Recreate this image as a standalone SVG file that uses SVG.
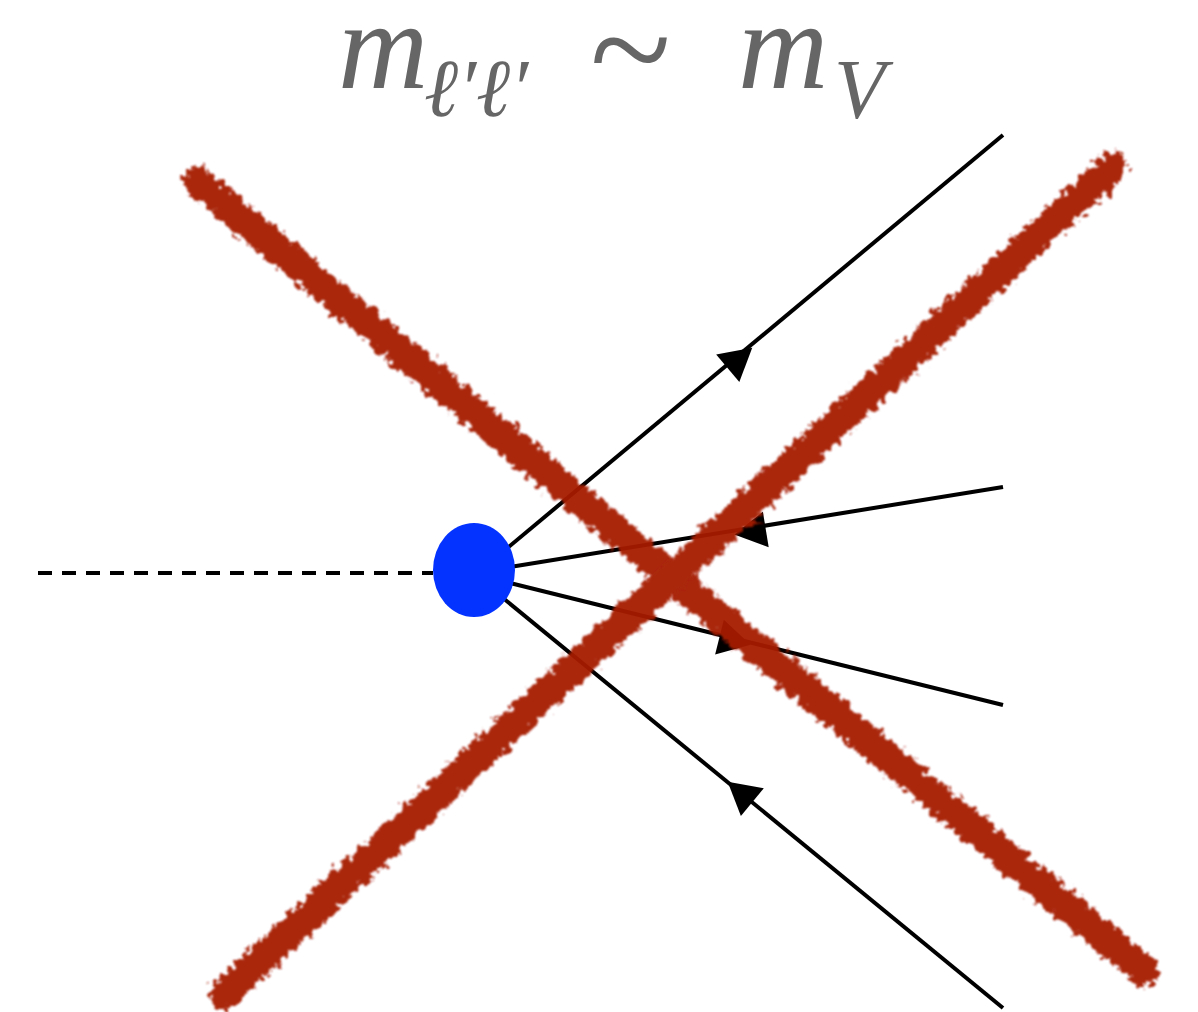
<svg xmlns="http://www.w3.org/2000/svg" width="1198" height="1012" viewBox="0 0 1198 1012">
<style>
.t{font-family:"Liberation Serif","DejaVu Serif",serif;font-style:italic;fill:#666666}
.f{stroke:#000;stroke-width:4;fill:none}
.x{stroke:#a61a02;stroke-width:30;stroke-linecap:round;fill:none;filter:url(#rough)}
</style>
<defs>
<filter id="rough" x="-10%" y="-10%" width="120%" height="120%">
<feTurbulence type="fractalNoise" baseFrequency="0.14" numOctaves="3" seed="5" result="n"/>
<feDisplacementMap in="SourceGraphic" in2="n" scale="18" xChannelSelector="R" yChannelSelector="G" result="d"/>
<feGaussianBlur in="d" stdDeviation="1.3"/>
</filter>
<path id="ah" d="M16 0 L-16 -18 L-16 18 Z" fill="#000"/>
</defs>
<g id="title">
<text class="t" x="338" y="88" font-size="125">m</text>
<text class="t" x="424" y="116" font-size="82">ℓ′ℓ′</text>
<text class="t" x="588" y="100" font-size="150" font-style="normal">~</text>
<text class="t" x="738" y="88" font-size="125">m</text>
<text class="t" x="834" y="118" font-size="84" font-style="normal">V</text>
</g>
<g id="connectors">
<line x1="38" y1="573" x2="433" y2="573" stroke="#000" stroke-width="4" stroke-dasharray="14,10"/>
<line class="f" x1="505" y1="550" x2="1003" y2="135"/>
<line class="f" x1="510" y1="567" x2="1003" y2="487"/>
<line class="f" x1="510" y1="583" x2="1003" y2="705"/>
<line class="f" x1="503" y1="598" x2="1003" y2="1008"/>
<use href="#ah" transform="translate(740,358) rotate(-40)"/>
<use href="#ah" transform="translate(750,532) rotate(170.7)"/>
<use href="#ah" transform="translate(735,641) rotate(14)"/>
<use href="#ah" transform="translate(740,792) rotate(219.5)"/>
</g>
<g id="vertex">
<ellipse cx="474" cy="570" rx="41" ry="47" fill="#0433ff"/>
</g>
<g id="cross" opacity="0.95">
<line class="x" x1="198" y1="182" x2="1145" y2="972"/>
<line class="x" x1="224" y1="994" x2="1112" y2="167"/>
</g>
</svg>
